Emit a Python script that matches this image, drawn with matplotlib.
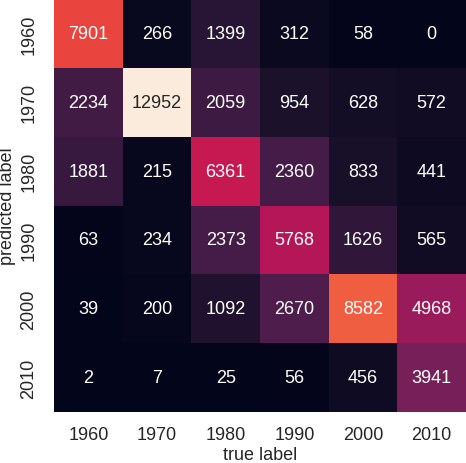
import numpy as np
import matplotlib
matplotlib.use("Agg")
import matplotlib.pyplot as plt
import seaborn as sns

years = ["1960", "1970", "1980", "1990", "2000", "2010"]
# rows = predicted label, columns = true label
row_1960 = [7901, 266, 1399, 312, 58, 0]
row_1970 = [2234, 12952, 2059, 954, 628, 572]
row_1980 = [1881, 215, 6361, 2360, 833, 441]
row_1990 = [63, 234, 2373, 5768, 1626, 565]
row_2000 = [39, 200, 1092, 2670, 8582, 4968]
row_2010 = [2, 7, 25, 56, 456, 3941]

mat = np.array([row_1960, row_1970, row_1980, row_1990, row_2000, row_2010])

sns.set_theme(style="white")
plt.rcParams['font.family'] = ['Liberation Sans', 'DejaVu Sans']

fig = plt.figure(figsize=(4.66, 4.64), dpi=100)
ax = fig.add_axes([54/466, 51/464, 412/466, 413/464])
sns.heatmap(mat, ax=ax, annot=True, fmt='d', cbar=False, square=False,
            xticklabels=years, yticklabels=years, cmap='rocket',
            annot_kws={'fontsize': 13})
ax.tick_params(axis='x', labelsize=13, length=0, pad=10)
ax.tick_params(axis='y', labelsize=13, length=0, pad=12)
ax.set_xlabel('true label', fontsize=13, labelpad=2)
ax.set_ylabel('predicted label', fontsize=13, labelpad=3)
fig.savefig('out.png', dpi=100)
